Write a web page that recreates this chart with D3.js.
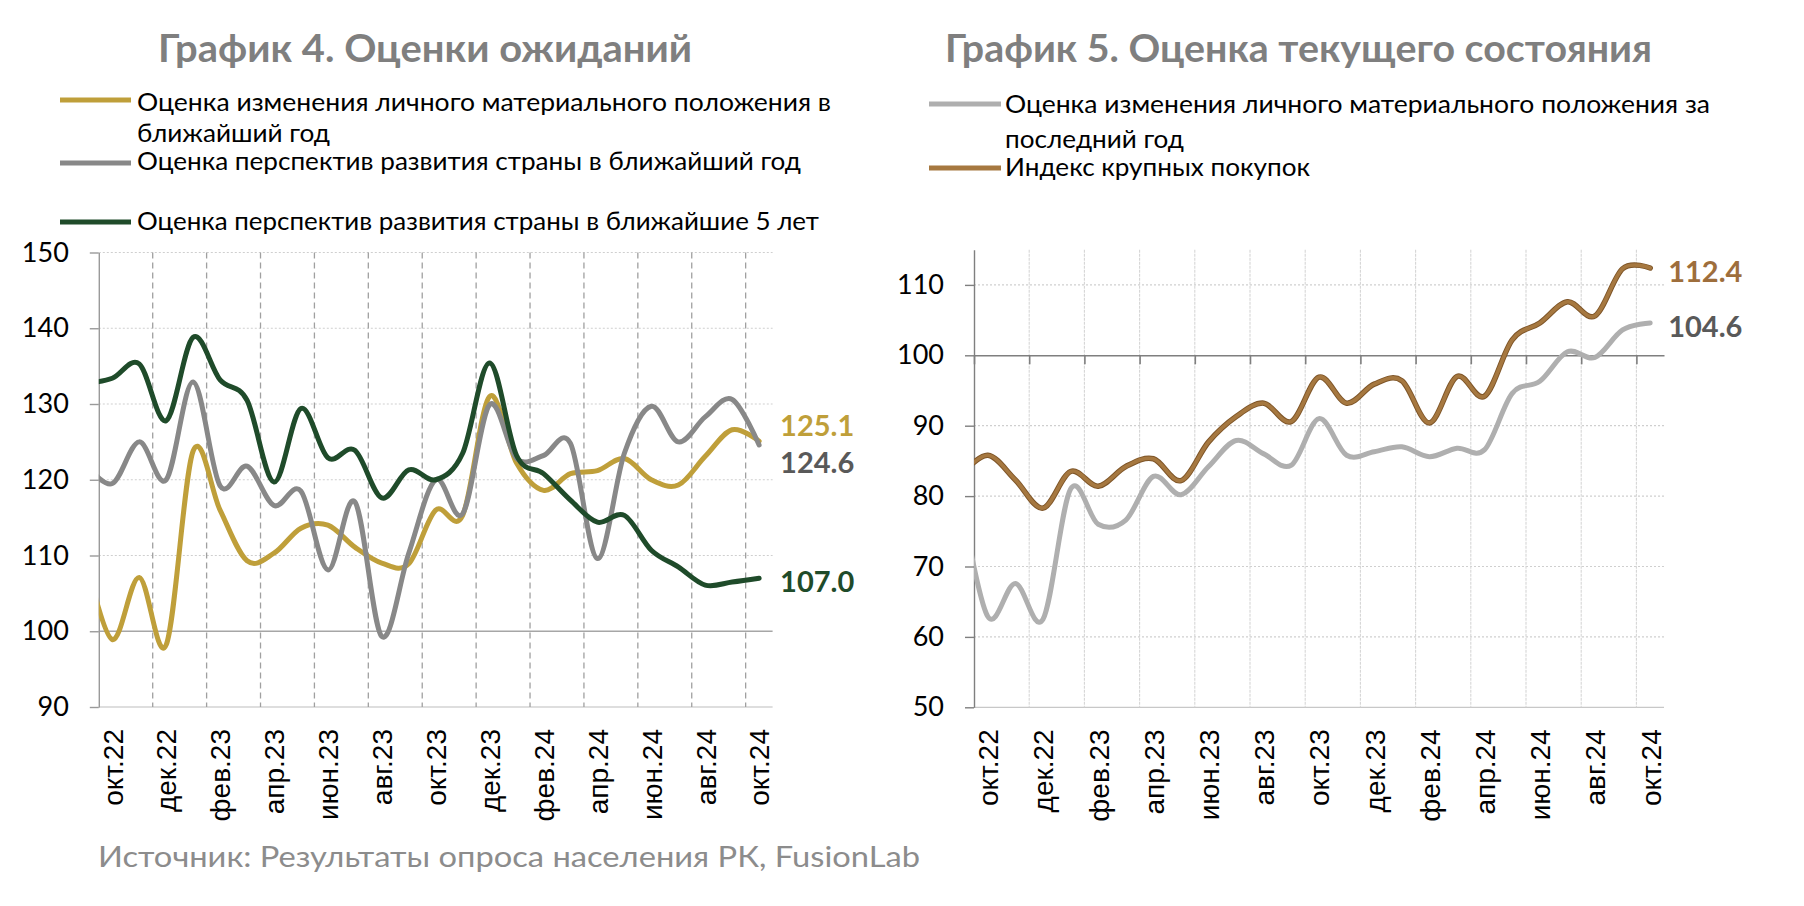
<!DOCTYPE html>
<html><head><meta charset="utf-8">
<script src="https://cdn.jsdelivr.net/npm/d3@7"></script>
<style>
html,body{margin:0;padding:0;background:#fff;}
svg{display:block;}
</style></head><body>
<svg id="c" width="1804" height="906"></svg>
<script>
// ---------- DATA ----------
// index 0 ("сен.22") is the lead-in point that is clipped at the axis edge
const months = ["сен.22","окт.22","ноя.22","дек.22","янв.23","фев.23","мар.23","апр.23","май.23","июн.23","июл.23","авг.23","сен.23","окт.23","ноя.23","дек.23","янв.24","фев.24","мар.24","апр.24","май.24","июн.24","июл.24","авг.24","сен.24","окт.24"];

const expPersonalNextYear = [109.8, 98.9, 107.1, 98.2, 123.8, 116.0, 109.3, 110.3, 113.6, 114.0, 111.1, 109.0, 108.9, 116.0, 115.3, 131.0, 122.2, 118.6, 120.8, 121.2, 122.8, 120.0, 119.3, 123.1, 126.6, 125.1];
const expCountryNextYear  = [122.1, 119.5, 125.0, 120.0, 132.9, 119.2, 121.8, 116.6, 118.5, 108.1, 117.1, 99.3, 110.3, 120.0, 115.5, 129.9, 122.8, 123.2, 124.8, 109.6, 123.5, 129.7, 125.0, 128.3, 130.6, 124.6];
const expCountry5Years    = [132.7, 133.4, 135.3, 127.8, 138.8, 133.2, 130.5, 119.7, 129.4, 122.9, 123.9, 117.6, 121.3, 120.0, 123.5, 135.4, 123.2, 120.8, 117.3, 114.4, 115.3, 110.7, 108.5, 106.1, 106.5, 107.0];

const curPersonalLastYear = [80.1, 62.9, 67.6, 62.5, 81.0, 76.0, 76.6, 82.8, 80.2, 84.2, 87.9, 86.0, 84.4, 91.0, 85.8, 86.3, 87.0, 85.6, 86.8, 86.6, 94.6, 96.3, 100.5, 99.7, 103.6, 104.6];
const bigPurchasesIndex   = [82.9, 85.8, 82.3, 78.3, 83.5, 81.4, 84.2, 85.3, 82.2, 87.7, 91.3, 93.2, 90.6, 96.9, 93.2, 95.9, 96.4, 90.4, 97.0, 94.2, 102.2, 104.6, 107.6, 105.6, 112.3, 112.4];

const leftTicks  = [90, 100, 110, 120, 130, 140, 150];
const rightTicks = [50, 60, 70, 80, 90, 100, 110];

const titleLeft  = "График 4. Оценки ожиданий";
const titleRight = "График 5. Оценка текущего состояния";
const legendLeft = [
  ["Оценка изменения личного материального положения в", "ближайший год"],
  ["Оценка перспектив развития страны в ближайший год"],
  ["Оценка перспектив развития страны в ближайшие 5 лет"]
];
const legendRight = [
  ["Оценка изменения личного материального положения за", "последний год"],
  ["Индекс крупных покупок"]
];
const sourceText = "Источник: Результаты опроса населения РК, FusionLab";

// ---------- DRAW ----------
const svg = d3.select("#c");
const defs = svg.append("defs");
const curve = d3.curveCardinal.tension(0);
const CAL = "Lato, 'Open Sans', sans-serif";
const ARIAL = "'Liberation Sans', Arial, sans-serif";

function fitText(sel, w) {
  sel.attr("textLength", w).attr("lengthAdjust", "spacingAndGlyphs");
}

function drawPanel(p) {
  const x = d3.scaleLinear().domain([0.5, months.length - 0.5]).range([p.left, p.right]);
  const y = d3.scaleLinear().domain(p.yDomain).range([p.bottom, p.top]);
  const g = svg.append("g");

  defs.append("clipPath").attr("id", "clip" + p.id).append("rect")
    .attr("x", p.left).attr("y", p.top - 40)
    .attr("width", p.right - p.left + 40).attr("height", p.bottom - p.top + 80);

  // title
  g.append("text").attr("x", p.title.x).attr("y", p.title.y)
    .attr("font-family", CAL).attr("font-weight", 700).attr("font-size", 39)
    .attr("fill", "#7f7f7f").text(p.title.text).call(fitText, p.title.w);

  // legend
  p.legend.forEach((it, i) => {
    g.append("line").attr("x1", p.legX1).attr("x2", p.legX2)
      .attr("y1", it.ly).attr("y2", it.ly)
      .attr("stroke", p.series[i].color).attr("stroke-width", 5);
    it.lines.forEach((ln, j) => {
      g.append("text").attr("x", p.legTextX).attr("y", ln.b)
        .attr("font-family", CAL).attr("font-size", 25).attr("fill", "#000")
        .text(p.legendText[i][j]).call(fitText, ln.w);
    });
  });

  // horizontal gridlines
  p.yTicks.forEach(v => {
    const gl = g.append("line").attr("x1", p.left).attr("x2", p.right)
      .attr("y1", y(v)).attr("y2", y(v));
    if (v === p.base) gl.attr("stroke", p.baseColor).attr("stroke-width", 1.2);
    else if (v === p.cross && !p.crossAxis) gl.attr("stroke", "#a6a6a6").attr("stroke-width", 1.4);
    else if (v === p.cross) gl.attr("stroke", "none");
    else gl.attr("stroke", "#cfcfcf").attr("stroke-width", 1.2).attr("stroke-dasharray", "2,2");
  });

  // vertical gridlines at 2-month boundaries
  d3.range(2.5, months.length - 1, 2).forEach(b => {
    const vl = g.append("line").attr("x1", x(b)).attr("x2", x(b))
      .attr("y1", p.top).attr("y2", p.bottom);
    if (p.vDashed) vl.attr("stroke", "#a0a0a0").attr("stroke-width", 1.3).attr("stroke-dasharray", "6,4");
    else vl.attr("stroke", "#d6d6d6").attr("stroke-width", 1.1).attr("stroke-dasharray", "3,1");
  });

  // crossing axis at 100 with ticks (right chart)
  if (p.crossAxis) {
    const ca = g.append("g").attr("transform", `translate(0,${y(p.cross)})`)
      .call(d3.axisBottom(x).tickValues(d3.range(0.5, months.length, 2)).tickSize(9).tickSizeOuter(0).tickFormat(""));
    ca.select(".domain").attr("stroke", "#7f7f7f").attr("stroke-width", 1.6);
    ca.selectAll(".tick line").attr("stroke", "#7f7f7f").attr("stroke-width", 1.6);
  }

  // y axis
  const ya = g.append("g").attr("transform", `translate(${p.left},0)`)
    .call(d3.axisLeft(y).tickValues(p.yTicks).tickSize(9).tickSizeOuter(0).tickPadding(21).tickFormat(d3.format("d")));
  ya.select(".domain").attr("stroke", p.axisColor).attr("stroke-width", 1.4);
  ya.selectAll(".tick line").attr("stroke", p.axisColor).attr("stroke-width", 1.4);
  ya.selectAll("text").attr("font-family", CAL).attr("font-size", 27).attr("fill", "#000");

  // x labels
  const xa = g.append("g").attr("transform", `translate(0,${p.bottom})`)
    .call(d3.axisBottom(x).tickValues(d3.range(1, months.length, 2)).tickFormat(i => months[i]).tickSize(0).tickSizeOuter(0));
  xa.select(".domain").remove();
  xa.selectAll("text")
    .attr("transform", "rotate(-90)").attr("text-anchor", "end")
    .attr("x", -22).attr("y", 0).attr("dy", "0.35em")
    .attr("font-family", ARIAL).attr("font-size", 28).attr("fill", "#000");

  // lines
  const line = d3.line().x((d, i) => x(i)).y(d => y(d)).curve(curve);
  p.series.forEach(s => {
    if (s.under) {
      g.append("path").attr("d", line(s.values)).attr("clip-path", `url(#clip${p.id})`)
        .attr("fill", "none").attr("stroke", s.under).attr("stroke-width", 5.5)
        .attr("stroke-linejoin", "round").attr("stroke-linecap", "round");
    }
    g.append("path").attr("d", line(s.values)).attr("clip-path", `url(#clip${p.id})`)
      .attr("fill", "none").attr("stroke", s.color).attr("stroke-width", s.under ? 3.6 : 5)
      .attr("stroke-linejoin", "round").attr("stroke-linecap", "round");
  });

  // end labels
  p.series.forEach(s => {
    const last = s.values[s.values.length - 1];
    g.append("text").attr("x", x(months.length - 1) + p.labelGap).attr("y", y(last) + s.labelDy)
      .attr("dominant-baseline", "central")
      .attr("font-family", CAL).attr("font-weight", 700).attr("font-size", 29)
      .attr("fill", s.labelColor).text(last.toFixed(1));
  });
}

drawPanel({
  id: "L", left: 98.8, right: 772.6, top: 252.5, bottom: 707, yDomain: [90, 150], yTicks: leftTicks,
  base: 90, cross: 100, crossAxis: false, baseColor: "#bdbdbd", axisColor: "#9a9a9a", vDashed: true,
  title: { text: titleLeft, x: 158, y: 62, w: 534 },
  legX1: 60, legX2: 131, legTextX: 137, legendText: legendLeft,
  legend: [
    { ly: 100, lines: [{ b: 111, w: 694 }, { b: 142, w: 193 }] },
    { ly: 163, lines: [{ b: 170, w: 664 }] },
    { ly: 222, lines: [{ b: 230, w: 682 }] }
  ],
  labelGap: 21,
  series: [
    { values: expPersonalNextYear, color: "#BF9F3A", labelColor: "#BF9F3A", labelDy: -16.6 },
    { values: expCountryNextYear,  color: "#888888", labelColor: "#595959", labelDy: 16.6 },
    { values: expCountry5Years,    color: "#1F4B2A", labelColor: "#1F4B2A", labelDy: 1.8 }
  ]
});

drawPanel({
  id: "R", left: 974, right: 1664, top: 249.7, bottom: 707.3, yDomain: [50, 115], yTicks: rightTicks,
  base: 50, cross: 100, crossAxis: true, baseColor: "#c8c8c8", axisColor: "#7f7f7f", vDashed: false,
  title: { text: titleRight, x: 945, y: 62, w: 707 },
  legX1: 929, legX2: 1001, legTextX: 1005, legendText: legendRight,
  legend: [
    { ly: 104, lines: [{ b: 113, w: 705 }, { b: 148, w: 179 }] },
    { ly: 168, lines: [{ b: 176, w: 305 }] }
  ],
  labelGap: 18,
  series: [
    { values: curPersonalLastYear, color: "#AFAFAF", labelColor: "#595959", labelDy: 2.7 },
    { values: bigPurchasesIndex,   color: "#A67840", under: "#7E5528", labelColor: "#9E6E3C", labelDy: 2 }
  ]
});

// source
svg.append("text").attr("x", 98).attr("y", 867)
  .attr("font-family", CAL).attr("font-size", 28).attr("fill", "#8c8c8c")
  .text(sourceText).call(fitText, 822);
</script>
</body></html>
